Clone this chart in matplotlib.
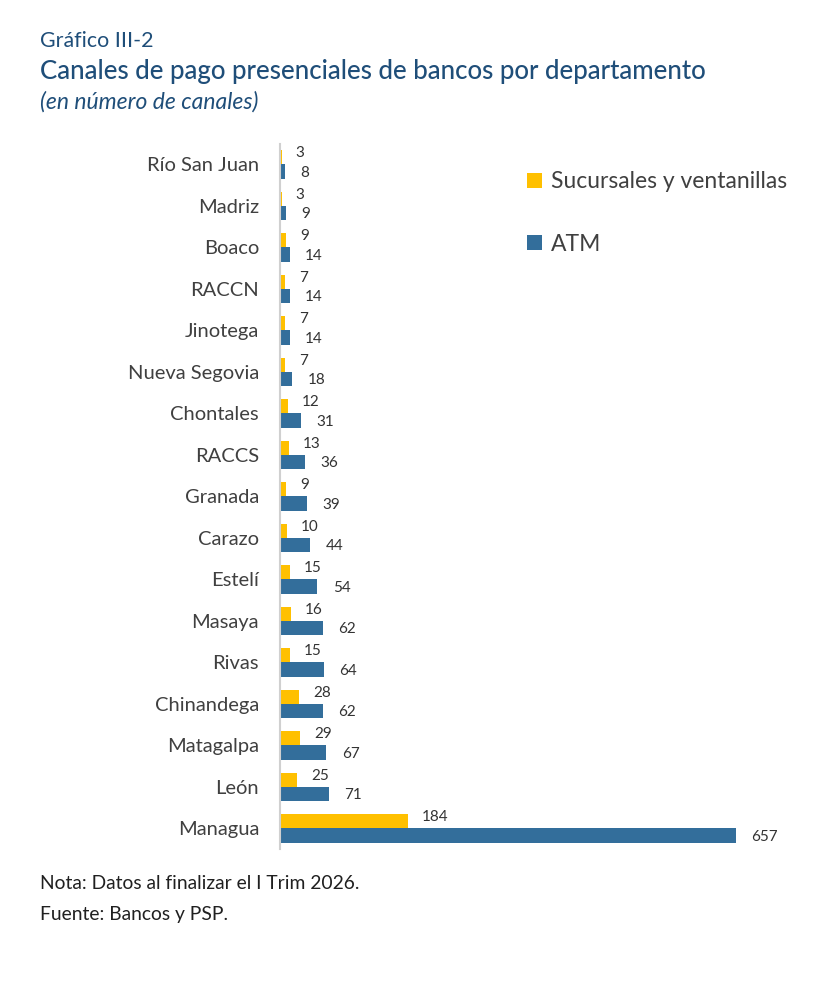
import matplotlib.pyplot as plt
import numpy as np

departamentos = ['Río San Juan', 'Madriz', 'Boaco', 'RACCN', 'Jinotega', 'Nueva Segovia',
                 'Chontales', 'RACCS', 'Granada', 'Carazo', 'Estelí', 'Masaya', 'Rivas',
                 'Chinandega', 'Matagalpa', 'León', 'Managua']
sucursales = [3, 3, 9, 7, 7, 7, 12, 13, 9, 10, 15, 16, 15, 28, 29, 25, 184]
atm = [8, 9, 14, 14, 14, 18, 31, 36, 39, 44, 54, 62, 64, 62, 67, 71, 657]

amarillo = '#FFC000'
azul = '#336E9B'
gris_texto = '#404040'
azul_titulo = '#1F4E79'

plt.rcParams['font.family'] = ['Lato', 'DejaVu Sans']

fig = plt.figure(figsize=(8.16, 9.84), dpi=100)
ax = fig.add_axes([0.343, 0.137, 0.637, 0.717])

y = np.arange(len(departamentos))
h = 0.34
ax.barh(y - h / 2, sucursales, height=h, color=amarillo, label='Sucursales y ventanillas')
ax.barh(y + h / 2, atm, height=h, color=azul, label='ATM')

# etiquetas de datos
for yi, v in zip(y, sucursales):
    ax.annotate(str(v), (v, yi - h / 2), xytext=(10, 3), textcoords='offset points',
                ha='left', va='center', fontsize=11, color='#333333')
for yi, v in zip(y, atm):
    ax.annotate(str(v), (v, yi + h / 2), xytext=(11, -1), textcoords='offset points',
                ha='left', va='center', fontsize=11, color='#333333')

ax.set_ylim(len(departamentos) - 0.5, -0.5)
ax.set_xlim(0, 749)
ax.set_yticks(y)
ax.set_yticklabels(departamentos, fontsize=14.5, color=gris_texto)
ax.tick_params(axis='y', length=0, pad=15)
ax.set_xticks([])
for s in ['top', 'right', 'bottom']:
    ax.spines[s].set_visible(False)
ax.spines['left'].set_color('#D0D0D0')
ax.spines['left'].set_linewidth(1.5)

leg = ax.legend(loc='upper left', bbox_to_anchor=(0.435, 0.99), frameon=False,
                fontsize=16.5, handlelength=0.65, handleheight=0.65, handletextpad=0.4,
                labelspacing=1.8)
for t in leg.get_texts():
    t.set_color(gris_texto)

fig.text(0.049, 0.958, 'Gráfico III-2', fontsize=15.4, color=azul_titulo, va='center')
fig.text(0.049, 0.927, 'Canales de pago presenciales de bancos por departamento',
         fontsize=18.6, color=azul_titulo, va='center', fontweight='medium')
fig.text(0.049, 0.897, '(en número de canales)', fontsize=16.5, color=azul_titulo,
         va='center', style='italic')

fig.text(0.049, 0.102, 'Nota: Datos al finalizar el I Trim 2026.', fontsize=13.9,
         color='#202020', va='center')
fig.text(0.049, 0.071, 'Fuente: Bancos y PSP.', fontsize=13.9, color='#202020', va='center')

fig.savefig('out.png', dpi=100)
